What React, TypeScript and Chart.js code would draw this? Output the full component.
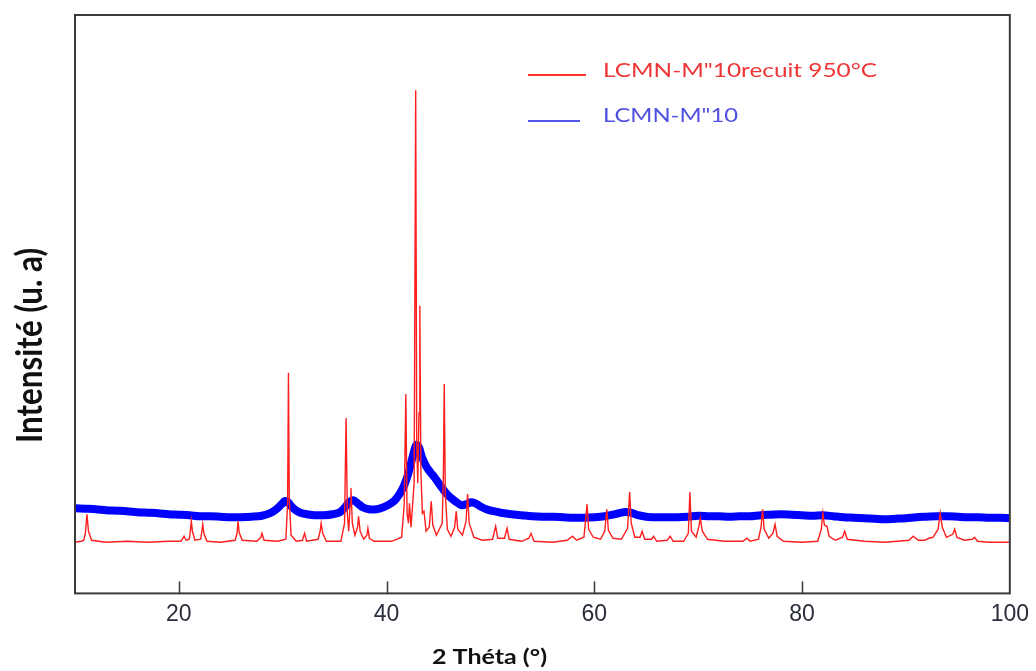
import React, { useEffect, useRef } from "react";
import { Chart, registerables } from "chart.js";

Chart.register(...registerables);

// ---------- data ----------
const xTickValues: number[] = [20, 40, 60, 80, 100];
const redLabel = 'LCMN-M"10recuit 950°C';
const blueLabel = 'LCMN-M"10';
const xTitle = "2 Théta (°)";
const yTitle = "Intensité (u. a)";

// [2θ (°), intensity (a.u.)] annealed sample (red)
const redPoints: [number, number][] = [
  [10, 51], [10.6, 52], [10.85, 53], [11.0, 60], [11.15, 79], [11.3, 62], [11.6, 53],
  [13, 51], [15, 52], [17, 51], [19, 52], [20.2, 52], [20.5, 57], [20.7, 53],
  [21.0, 54], [21.1, 62], [21.2, 72], [21.3, 62], [21.55, 53],
  [22.1, 54], [22.2, 61], [22.3, 69], [22.4, 60], [22.7, 52],
  [24, 51], [25.4, 53], [25.6, 60], [25.7, 72], [25.8, 61], [26.1, 53],
  [27.5, 52], [27.9, 56], [28.0, 60], [28.2, 53], [29.5, 52], [30.3, 54],
  [30.47, 90], [30.55, 220], [30.63, 95], [30.8, 58], [31.3, 52],
  [31.9, 53], [32.1, 60], [32.3, 52], [33.4, 54], [33.6, 62], [33.7, 70], [33.85, 60], [34.2, 52],
  [35.6, 52], [35.95, 70], [36.1, 175], [36.22, 80], [36.35, 62], [36.5, 90], [36.57, 105],
  [36.7, 70], [36.95, 58], [37.2, 66], [37.3, 77], [37.45, 62], [37.8, 54], [38.1, 58],
  [38.2, 65], [38.35, 55], [38.8, 52], [40.5, 52], [41.45, 56], [41.7, 90], [41.85, 199],
  [41.97, 80], [42.1, 70], [42.2, 90], [42.35, 66], [42.65, 110], [42.8, 502], [42.9, 150],
  [43.0, 110], [43.12, 180], [43.2, 287], [43.3, 120], [43.45, 80], [43.6, 82], [43.8, 62],
  [44.1, 66], [44.3, 92], [44.45, 68], [44.8, 58], [45.35, 70], [45.47, 120], [45.55, 209],
  [45.65, 100], [45.85, 64], [46.2, 57], [46.55, 66], [46.7, 82], [46.85, 64], [47.3, 58],
  [47.65, 72], [47.8, 99], [47.95, 70], [48.4, 56], [49.2, 53], [50.2, 54], [50.5, 67],
  [50.7, 55], [51.35, 55], [51.6, 65], [51.8, 54], [53.0, 52], [53.7, 55], [53.9, 60],
  [54.2, 52], [56, 51], [57.4, 53], [57.9, 57], [58.3, 53], [59.0, 56], [59.3, 89],
  [59.45, 64], [59.9, 56], [60.6, 54], [61.0, 62], [61.2, 84], [61.35, 63], [61.8, 55],
  [62.6, 54], [63.2, 65], [63.4, 101], [63.55, 70], [63.9, 56], [64.4, 56], [64.6, 62],
  [64.85, 54], [65.5, 54], [65.7, 57], [66.0, 52], [67.0, 53], [67.3, 57], [67.6, 52],
  [68.6, 52], [69.05, 60], [69.2, 101], [69.35, 62], [69.8, 56], [70.05, 66], [70.2, 75],
  [70.4, 62], [70.9, 54], [72.5, 52], [74.3, 52], [74.7, 55], [75.0, 52], [75.8, 54],
  [76.05, 66], [76.2, 84], [76.35, 64], [76.8, 55], [77.2, 60], [77.4, 69], [77.6, 57],
  [78.2, 52], [80, 51], [81.5, 52], [81.85, 64], [82.0, 80], [82.15, 68], [82.4, 67],
  [82.6, 57], [83.2, 53], [83.9, 56], [84.1, 62], [84.35, 54], [86, 52], [88, 51],
  [90.3, 53], [90.7, 57], [91.2, 53], [91.8, 53], [92.2, 55], [92.6, 56], [93.1, 64],
  [93.3, 80], [93.5, 66], [93.9, 56], [94.5, 59], [94.7, 64], [94.9, 56], [95.6, 53],
  [96.4, 54], [96.6, 56], [96.9, 52], [98, 51], [100, 51],
];

// [2θ (°), intensity (a.u.)] as-prepared sample (blue)
const bluePoints: [number, number][] = [
  [10, 85], [11, 84.5], [12, 84], [13, 83], [14, 82.5], [15, 82], [16, 81], [17, 80.5],
  [18, 80], [19, 79], [20, 78.5], [21, 78], [22, 77], [23, 77], [24, 76.5], [25, 76],
  [26, 76], [27, 76.5], [28, 77.5], [28.8, 80], [29.4, 84], [29.9, 89], [30.2, 92],
  [30.5, 91], [30.9, 86], [31.4, 82], [32, 79.5], [33, 78], [34, 78], [34.8, 79],
  [35.5, 81], [36.0, 86], [36.4, 91], [36.8, 93], [37.2, 90], [37.7, 86], [38.3, 84],
  [39, 84], [39.7, 86], [40.3, 89], [40.8, 93], [41.3, 100], [41.7, 108], [42.1, 120],
  [42.5, 136], [42.85, 148], [43.1, 146], [43.4, 136], [43.8, 127], [44.2, 121],
  [44.6, 116], [45.0, 110], [45.5, 103], [46.0, 97], [46.6, 92], [47.2, 88], [47.7, 89],
  [48.1, 91], [48.5, 90], [49, 87], [49.6, 84], [50.3, 82], [51, 80.5], [52, 79], [53, 78],
  [54, 77], [55, 76.5], [56, 76.5], [57, 76], [58, 75.5], [59, 75.5], [60, 76], [61, 77],
  [62, 79], [62.8, 81], [63.5, 80.5], [64.2, 78], [65, 76.5], [66, 76], [67, 76], [68, 76],
  [69, 76.5], [70, 77.5], [71, 77], [72, 77], [73, 76.5], [74, 77], [75, 77], [76, 78],
  [77, 78.5], [78, 79], [79, 78.5], [80, 78], [81, 77.5], [82, 78], [83, 77], [84, 76],
  [85, 75.5], [86, 75], [87, 74.5], [88, 74], [89, 74.5], [90, 75], [91, 76], [92, 76.5],
  [93, 77], [94, 77], [95, 76.5], [96, 76], [97, 76], [98, 75.5], [99, 75.5], [100, 75],
];

// ---------- drawing helpers ----------
function drawFitted(
  ctx: CanvasRenderingContext2D,
  text: string,
  font: string,
  color: string,
  x: number,
  y: number,
  width: number,
  rotate = 0,
  crossScale = 1
) {
  ctx.save();
  ctx.font = font;
  ctx.fillStyle = color;
  ctx.textAlign = "left";
  ctx.textBaseline = "alphabetic";
  const w = ctx.measureText(text).width || 1;
  ctx.translate(x, y);
  if (rotate) ctx.rotate(rotate);
  ctx.scale(width / w, crossScale);
  ctx.fillText(text, 0, 0);
  ctx.restore();
}

const decorPlugin = {
  id: "decor",
  afterDatasetsDraw(chart: any) {
    const { ctx, chartArea: ca, scales } = chart;
    ctx.save();
    // frame
    ctx.strokeStyle = "#3a3a3a";
    ctx.lineWidth = 2;
    ctx.strokeRect(ca.left, ca.top, ca.right - ca.left, ca.bottom - ca.top);
    // inward tick marks
    ctx.lineWidth = 1.5;
    xTickValues.forEach((v) => {
      if (v >= scales.x.max) return;
      const px = Math.round(scales.x.getPixelForValue(v)) + 0.5;
      ctx.beginPath();
      ctx.moveTo(px, ca.bottom);
      ctx.lineTo(px, ca.bottom - 12);
      ctx.stroke();
    });
    // legend
    ctx.lineWidth = 2;
    ctx.strokeStyle = "#ff3030";
    ctx.beginPath();
    ctx.moveTo(528, 75);
    ctx.lineTo(586, 75);
    ctx.stroke();
    ctx.strokeStyle = "#5555ee";
    ctx.beginPath();
    ctx.moveTo(528, 121);
    ctx.lineTo(580, 121);
    ctx.stroke();
    ctx.restore();

    drawFitted(ctx, redLabel, "19px Lato", "#ee3535", 603, 77, 274);
    drawFitted(ctx, blueLabel, "19px Lato", "#4f4fe0", 603, 122, 135);
    // axis titles
    drawFitted(ctx, xTitle, "bold 21px Lato", "#111111", 432, 664, 115);
    drawFitted(ctx, yTitle, "bold 34px Lato", "#111111", 42, 443, 195, -Math.PI / 2, 1.05);
  },
};

export default function App() {
  const canvasRef = useRef<HTMLCanvasElement | null>(null);

  useEffect(() => {
    if (!canvasRef.current) return;
    const chart = new Chart(canvasRef.current, {
      type: "line",
      data: {
        datasets: [
          {
            label: redLabel,
            data: redPoints.map(([x, y]) => ({ x, y })),
            borderColor: "#ff1e1e",
            borderWidth: 1.4,
            pointRadius: 0,
            tension: 0,
            fill: false,
          },
          {
            label: blueLabel,
            data: bluePoints.map(([x, y]) => ({ x, y })),
            borderColor: "#0000ff",
            borderWidth: 8,
            pointRadius: 0,
            tension: 0.3,
            fill: false,
            borderJoinStyle: "round",
            borderCapStyle: "butt",
          },
        ],
      },
      options: {
        animation: false,
        responsive: true,
        maintainAspectRatio: false,
        events: [],
        layout: { padding: { left: 75, right: 23, top: 15, bottom: 36 } },
        plugins: {
          legend: { display: false },
          tooltip: { enabled: false },
        },
        scales: {
          x: {
            type: "linear",
            min: 10,
            max: 100,
            grid: { display: false, drawTicks: false },
            border: { display: false },
            afterBuildTicks: (scale: any) => {
              scale.ticks = xTickValues.map((v) => ({ value: v }));
            },
            ticks: {
              autoSkip: false,
              maxRotation: 0,
              padding: 7,
              color: "#2a2d3a",
              font: { family: '"Liberation Sans", Arial, sans-serif', size: 23 },
            },
          },
          y: {
            display: false,
            min: 0,
            max: 577,
          },
        },
      },
      plugins: [decorPlugin],
    });
    return () => chart.destroy();
  }, []);

  return (
    <div style={{ position: "fixed", left: 0, top: 0, width: 1036, height: 671, background: "#ffffff" }}>
      <canvas ref={canvasRef} />
    </div>
  );
}
